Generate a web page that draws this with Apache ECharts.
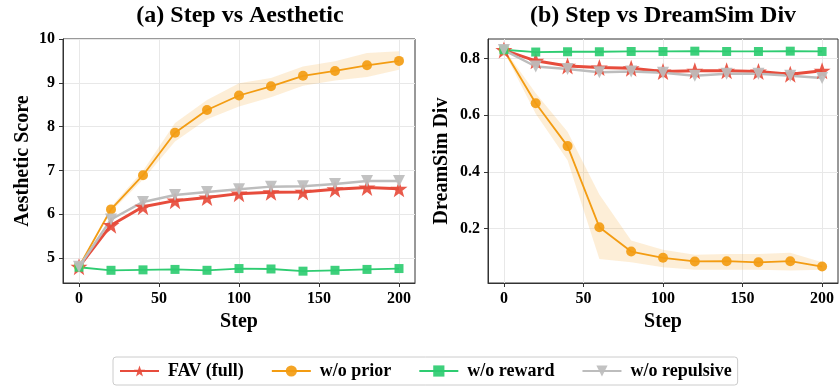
<!DOCTYPE html>
<html>
<head>
<meta charset="utf-8">
<style>
  html, body { margin: 0; padding: 0; background: #fff; }
  #chart { width: 839px; height: 389px; }
</style>
<script src="https://cdn.jsdelivr.net/npm/echarts@6/dist/echarts.min.js"></script>
</head>
<body>
<div id="chart"></div>
<script>
const steps = [0, 20, 40, 60, 80, 100, 120, 140, 160, 180, 200]

// (a) aesthetic score
const aesFav = [4.80, 5.75, 6.17, 6.31, 6.38, 6.47, 6.50, 6.51, 6.57, 6.61, 6.58]
const aesPrior = [4.80, 6.11, 6.89, 7.86, 8.38, 8.71, 8.92, 9.16, 9.27, 9.40, 9.50]
const aesPriorLo = [4.78, 6.05, 6.79, 7.66, 8.17, 8.46, 8.67, 8.93, 9.05, 9.13, 9.30]
const aesPriorHi = [4.82, 6.17, 6.99, 8.08, 8.61, 8.99, 9.11, 9.37, 9.49, 9.68, 9.72]
const aesReward = [4.79, 4.72, 4.73, 4.74, 4.72, 4.76, 4.75, 4.70, 4.72, 4.74, 4.76]
const aesRepulse = [4.80, 5.88, 6.28, 6.44, 6.51, 6.57, 6.63, 6.64, 6.69, 6.76, 6.76]

// (b) dreamsim diversity
const divFav = [0.830, 0.792, 0.774, 0.768, 0.766, 0.754, 0.757, 0.757, 0.754, 0.745, 0.757]
const divPrior = [0.830, 0.642, 0.491, 0.205, 0.119, 0.097, 0.084, 0.085, 0.081, 0.085, 0.066]
const divPriorLo = [0.825, 0.605, 0.441, 0.093, 0.081, 0.064, 0.055, 0.055, 0.055, 0.052, 0.055]
const divPriorHi = [0.835, 0.678, 0.542, 0.320, 0.158, 0.125, 0.108, 0.110, 0.110, 0.115, 0.081]
const divReward = [0.831, 0.823, 0.824, 0.824, 0.825, 0.825, 0.826, 0.825, 0.825, 0.826, 0.825]
const divRepulse = [0.830, 0.772, 0.763, 0.752, 0.754, 0.750, 0.739, 0.746, 0.746, 0.739, 0.731]

const xTicks = [0, 50, 100, 150, 200]
const aesTicks = [5, 6, 7, 8, 9, 10]
const divTicks = [0.2, 0.4, 0.6, 0.8]

const serif = '"Liberation Serif", "DejaVu Serif", serif'
const C_RED = '#e74c3c'
const C_ORANGE = '#f39c12'
const C_GREEN = '#2ecc71'
const C_GRAY = '#bdbdbd'
const STAR = 'path://M50,0 L63,36 L100,36 L70,58 L81,95 L50,73 L19,95 L30,58 L0,36 L37,36 Z'

const pts = (ys) => steps.map((x, i) => [x, ys[i]])

const labelFont = { fontFamily: serif, fontWeight: 'bold', fontSize: 16, color: '#000' }
const nameFont = { fontFamily: serif, fontWeight: 'bold', fontSize: 20, color: '#000' }

function xAxis(idx) {
  return {
    type: 'value', gridIndex: idx, min: -10, max: 210,
    name: 'Step', nameLocation: 'middle', nameGap: 25, nameTextStyle: nameFont,
    axisLine: { show: true, onZero: false, lineStyle: { color: '#333', width: 1 } },
    axisTick: { show: true, length: 4, customValues: xTicks, lineStyle: { color: '#333' } },
    axisLabel: Object.assign({ customValues: xTicks, margin: 8 }, labelFont),
    splitLine: { show: true, lineStyle: { color: '#e8e8e8', width: 1 } }
  }
}

function yAxis(idx, name, min, max, ticks, gap, fmt) {
  return {
    type: 'value', gridIndex: idx, min: min, max: max,
    name: name, nameLocation: 'middle', nameGap: gap, nameTextStyle: nameFont,
    axisLine: { show: true, onZero: false, lineStyle: { color: '#333', width: 1 } },
    axisTick: { show: true, length: 4, customValues: ticks, lineStyle: { color: '#333' } },
    axisLabel: Object.assign({ customValues: ticks, margin: 8, formatter: fmt }, labelFont),
    splitLine: { show: true, lineStyle: { color: '#e8e8e8', width: 1 } }
  }
}

// shaded std band, drawn once as a polygon through the axis scales
function band(idx, lo, hi) {
  return {
    type: 'custom', xAxisIndex: idx, yAxisIndex: idx, silent: true, z: 1,
    data: steps.map((x, i) => [x, lo[i], hi[i]]),
    encode: { x: 0, y: [1, 2] },
    clip: true,
    renderItem(params, api) {
      if (params.dataIndex !== 0) return
      const top = steps.map((x, i) => api.coord([x, hi[i]]))
      const bottom = steps.map((x, i) => api.coord([x, lo[i]])).reverse()
      return {
        type: 'polygon',
        shape: { points: top.concat(bottom) },
        style: { fill: C_ORANGE, opacity: 0.17 }
      }
    }
  }
}

function line(idx, name, ys, color, symbol, size, width, rotate) {
  return {
    name: name, type: 'line', xAxisIndex: idx, yAxisIndex: idx,
    data: pts(ys), color: color, z: 3,
    symbol: symbol, symbolSize: size, symbolRotate: rotate || 0,
    showAllSymbol: true,
    lineStyle: { color: color, width: width },
    itemStyle: { color: color, opacity: 0.92 }
  }
}

const chart = echarts.init(document.getElementById('chart'))
chart.setOption({
  animation: false,
  backgroundColor: '#fff',
  graphic: [
    { type: 'text', x: 240, y: 4, style: { text: '(a) Step vs Aesthetic', align: 'center', font: 'bold 24px ' + serif, fill: '#000' } },
    { type: 'text', x: 663, y: 4, style: { text: '(b) Step vs DreamSim Div', align: 'center', font: 'bold 24px ' + serif, fill: '#000' } }
  ],
  grid: [
    { left: 63, top: 39, width: 352, height: 244, show: true, borderColor: '#333', borderWidth: 1 },
    { left: 488, top: 39, width: 350, height: 244, show: true, borderColor: '#333', borderWidth: 1 }
  ],
  xAxis: [xAxis(0), xAxis(1)],
  yAxis: [
    yAxis(0, 'Aesthetic Score', 4.43, 10, aesTicks, 30, (v) => String(v)),
    yAxis(1, 'DreamSim Div', 0.008, 0.869, divTicks, 36, (v) => v.toFixed(1))
  ],
  legend: {
    data: ['FAV (full)', 'w/o prior', 'w/o reward', 'w/o repulsive'],
    left: 113, top: 357,
    padding: [5, 6, 5, 6],
    itemWidth: 39, itemHeight: 14, itemGap: 27,
    borderColor: '#ccc', borderWidth: 1, borderRadius: 3,
    textStyle: { fontFamily: serif, fontWeight: 'bold', fontSize: 18, color: '#000', padding: [0, 0, 0, 4] }
  },
  series: [
    band(0, aesPriorLo, aesPriorHi),
    band(1, divPriorLo, divPriorHi),
    line(0, 'FAV (full)', aesFav, C_RED, STAR, 17, 3),
    line(0, 'w/o prior', aesPrior, C_ORANGE, 'circle', 10, 1.8),
    line(0, 'w/o reward', aesReward, C_GREEN, 'rect', 9, 1.8),
    line(0, 'w/o repulsive', aesRepulse, C_GRAY, 'triangle', 12, 2.5, 180),
    line(1, 'FAV (full)', divFav, C_RED, STAR, 17, 3),
    line(1, 'w/o prior', divPrior, C_ORANGE, 'circle', 10, 1.8),
    line(1, 'w/o reward', divReward, C_GREEN, 'rect', 9, 1.8),
    line(1, 'w/o repulsive', divRepulse, C_GRAY, 'triangle', 12, 2.5, 180)
  ]
})
</script>
</body>
</html>
